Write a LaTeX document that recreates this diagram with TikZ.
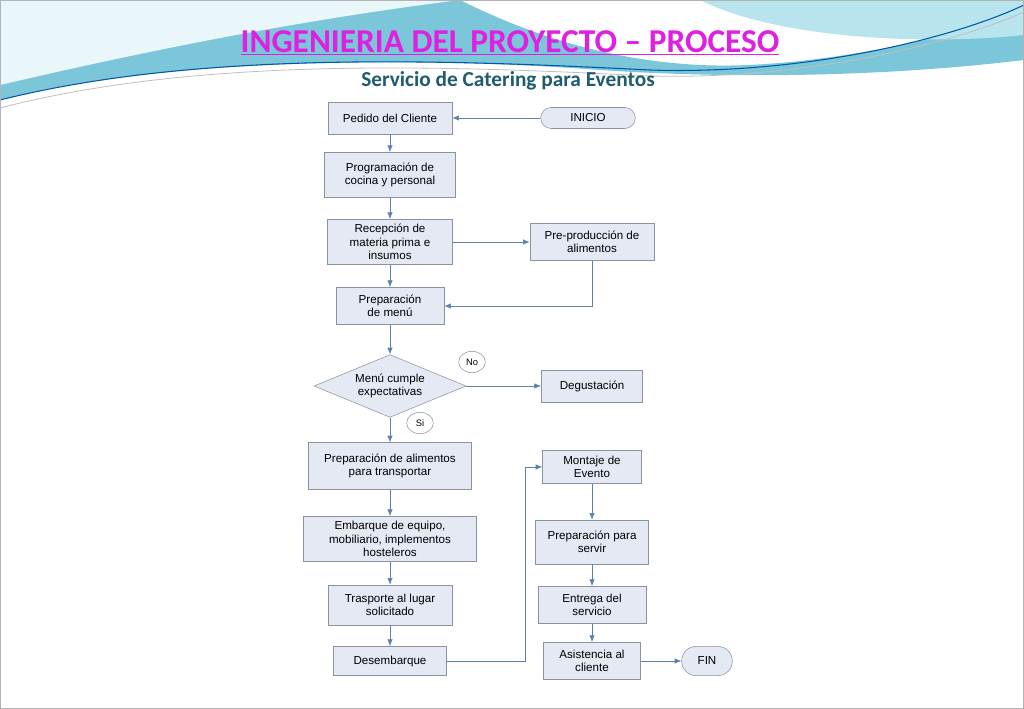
\documentclass[tikz,border=0pt]{standalone}
\usepackage{fontspec}
\setmainfont{Liberation Sans}
\newfontfamily\titlefont{Carlito}
\usetikzlibrary{shapes.geometric,arrows.meta}
\definecolor{boxfill}{HTML}{E4E9F3}
\definecolor{boxline}{HTML}{8C93A0}
\definecolor{arr}{HTML}{4F81BD}
\definecolor{teal1}{HTML}{7CC6DA}
\definecolor{teal2}{HTML}{B8E4EE}
\definecolor{subt}{HTML}{1F5C6E}
\definecolor{titc}{HTML}{E020E0}
\tikzset{
  bx/.style={draw=boxline,fill=boxfill,align=center,font=\fontsize{8.7}{10}\selectfont,inner sep=2pt},
  term/.style={draw=boxline,fill=boxfill,rounded corners=8pt,font=\fontsize{8.7}{10}\selectfont,minimum height=15.75pt,minimum width=71pt},
  lbl/.style={draw=boxline,fill=white,ellipse,font=\fontsize{7}{8}\selectfont,inner sep=1pt,minimum width=20pt,minimum height=16pt},
  con/.style={draw=arr!70!gray,-{Latex[length=5pt,width=4pt]},line width=0.5pt},
}
\begin{document}
\begin{tikzpicture}[x=0.75pt,y=-0.75pt]
\useasboundingbox (0,0) rectangle (1024,709);
\fill[white] (0,0) rectangle (1024,709);
% background swoosh
\fill[teal1] (0,0) -- (460,0) .. controls (520,30) and (600,60) .. (700,65) .. controls (800,70) and (950,40) .. (1024,10) -- (1024,60) .. controls (900,75) and (750,80) .. (600,70) .. controls (400,55) and (150,60) .. (0,100) -- cycle;
\fill[teal2] (700,0) .. controls (780,40) and (930,45) .. (1024,35) -- (1024,0) -- cycle;
\fill[white!70!teal2] (0,0) -- (460,0) .. controls (300,20) and (150,50) .. (0,85) -- cycle;
\draw[teal!70!blue,line width=0.8pt] (0,100) .. controls (200,50) and (450,60) .. (650,70) .. controls (800,75) and (950,40) .. (1024,5);
\draw[gray!50,line width=0.6pt] (0,108) .. controls (200,56) and (450,66) .. (650,76) .. controls (800,80) and (950,45) .. (1024,12);
\draw[gray!60] (0.5,0.5) rectangle (1023.5,708.5);
% titles
\node[font=\titlefont\bfseries\fontsize{25}{27}\selectfont,text=titc] (t1) at (510,43) {\underline{INGENIERIA DEL PROYECTO – PROCESO}};
\node[font=\titlefont\bfseries\fontsize{16}{18}\selectfont,text=subt] (t2) at (508,81) {Servicio de Catering para Eventos};
% nodes
\node[bx,minimum width=93pt,minimum height=24pt] (ped) at (390,118) {Pedido del Cliente};
\node[term] (ini) at (588,118) {INICIO};
\node[bx,minimum width=98pt,minimum height=34pt] (prog) at (390,175) {Programación de\\cocina y personal};
\node[bx,minimum width=94pt,minimum height=34pt] (rec) at (390,242) {Recepción de\\materia prima e\\insumos};
\node[bx,minimum width=93pt,minimum height=28pt] (pre) at (592,242) {Pre-producción de\\alimentos};
\node[bx,minimum width=81pt,minimum height=28pt] (men) at (390,306) {Preparación\\de menú};
\node[draw=boxline,fill=boxfill,diamond,aspect=2.4,inner sep=0pt,minimum width=114pt,minimum height=47pt,align=center,font=\fontsize{8.7}{10}\selectfont] (dia) at (390,386) {Menú cumple\\expectativas};
\node[lbl] (no) at (472,362) {No};
\node[lbl] (si) at (420,423) {Si};
\node[bx,minimum width=76pt,minimum height=24pt] (deg) at (592,386) {Degustación};
\node[bx,minimum width=122pt,minimum height=35pt] (pal) at (390,466) {Preparación de alimentos\\para transportar};
\node[bx,minimum width=130pt,minimum height=34pt] (emb) at (390,539) {Embarque de equipo,\\mobiliario, implementos\\hosteleros};
\node[bx,minimum width=93pt,minimum height=30pt] (tra) at (390,605) {Trasporte al lugar\\solicitado};
\node[bx,minimum width=85pt,minimum height=22pt] (des) at (390,661) {Desembarque};
\node[bx,minimum width=74pt,minimum height=25pt] (mon) at (592,467) {Montaje de\\Evento};
\node[bx,minimum width=85pt,minimum height=33pt] (ps) at (592,542) {Preparación para\\servir};
\node[bx,minimum width=81pt,minimum height=28pt] (ent) at (592,605) {Entrega del\\servicio};
\node[bx,minimum width=73pt,minimum height=28pt] (asi) at (592,661) {Asistencia al\\cliente};
\node[term,minimum width=38pt,minimum height=22pt,rounded corners=11pt] (fin) at (707,661) {FIN};
% connectors
\draw[con] (ini) -- (ped);
\draw[con] (ped) -- (prog);
\draw[con] (prog) -- (rec);
\draw[con] (rec) -- (pre);
\draw[con] (rec) -- (men);
\draw[con] (pre.south) |- (men.east);
\draw[con] (men) -- (dia);
\draw[con] (dia) -- (deg);
\draw[con] (dia) -- (pal);
\draw[con] (pal) -- (emb);
\draw[con] (emb) -- (tra);
\draw[con] (tra) -- (des);
\coordinate (c1) at (525,661);
\coordinate (c2) at (525,467);
\draw[con] (des.east) -- (c1) -- (c2) -- (mon.west);
\draw[con] (mon) -- (ps);
\draw[con] (ps) -- (ent);
\draw[con] (ent) -- (asi);
\draw[con] (asi) -- (fin);
\end{tikzpicture}
\end{document}
